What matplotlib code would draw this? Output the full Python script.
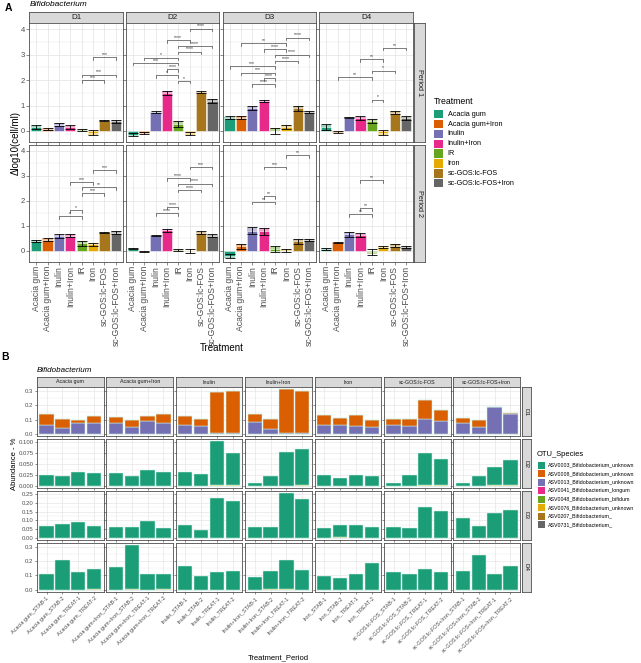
import matplotlib
matplotlib.use('Agg')
import matplotlib.pyplot as plt
from matplotlib.patches import Rectangle
import numpy as np

plt.rcParams['font.family'] = ['Liberation Sans', 'DejaVu Sans']

W, H = 641, 663
fig = plt.figure(figsize=(W / 100, H / 100), dpi=100)


def box(x0, y0, x1, y1):
    return [x0 / W, 1 - y1 / H, (x1 - x0) / W, (y1 - y0) / H]


# ---------------- DATA: panel A ----------------
treatments = ["Acacia gum", "Acacia gum+Iron", "Inulin", "Inulin+Iron", "IR", "Iron",
              "sc-GOS:lc-FOS", "sc-GOS:lc-FOS+Iron"]
treat_colors = ["#1B9E77", "#D95F02", "#7570B3", "#E7298A", "#66A61E", "#E6AB02",
                "#A6761D", "#666666"]
days = ["D1", "D2", "D3", "D4"]
periods = ["Period 1", "Period 2"]

# Period 1 means / errors per day
mean_p1_d1 = [0.15, 0.08, 0.25, 0.15, 0.03, -0.08, 0.40, 0.37]
err_p1_d1 = [0.07, 0.03, 0.07, 0.07, 0.04, 0.10, 0.03, 0.06]
mean_p1_d2 = [-0.15, -0.08, 0.73, 1.50, 0.27, -0.10, 1.52, 1.18]
err_p1_d2 = [0.07, 0.05, 0.04, 0.08, 0.13, 0.07, 0.04, 0.08]
mean_p1_d3 = [0.52, 0.52, 0.90, 1.17, 0.00, 0.15, 0.90, 0.75]
err_p1_d3 = [0.05, 0.07, 0.07, 0.05, 0.12, 0.08, 0.10, 0.05]
mean_p1_d4 = [0.14, -0.05, 0.52, 0.50, 0.40, -0.08, 0.72, 0.50]
err_p1_d4 = [0.12, 0.03, 0.03, 0.07, 0.07, 0.10, 0.07, 0.07]

# Period 2 means / errors per day
mean_p2_d1 = [0.38, 0.44, 0.58, 0.60, 0.30, 0.25, 0.74, 0.72]
err_p2_d1 = [0.05, 0.07, 0.07, 0.06, 0.10, 0.05, 0.02, 0.06]
mean_p2_d2 = [0.08, -0.05, 0.62, 0.82, 0.02, -0.02, 0.72, 0.60]
err_p2_d2 = [0.03, 0.03, 0.02, 0.06, 0.04, 0.07, 0.05, 0.05]
mean_p2_d3 = [-0.22, 0.18, 0.80, 0.77, 0.05, 0.00, 0.38, 0.43]
err_p2_d3 = [0.08, 0.10, 0.15, 0.15, 0.13, 0.07, 0.10, 0.05]
mean_p2_d4 = [0.08, 0.33, 0.65, 0.62, -0.05, 0.15, 0.20, 0.15]
err_p2_d4 = [0.04, 0.02, 0.10, 0.07, 0.12, 0.05, 0.07, 0.05]

# significance brackets: (from index, to index, height, label)
sig_p1_d1 = [(5, 7, 2.90, "***"), (4, 7, 2.22, "***"), (4, 6, 2.00, "***")]
sig_p1_d2 = [(5, 7, 4.03, "****"), (3, 5, 3.57, "****"), (4, 7, 3.35, "****"),
             (4, 6, 3.12, "****"), (1, 4, 2.89, "*"), (0, 4, 2.68, "***"),
             (3, 4, 2.44, "****"), (2, 4, 2.20, "*"), (4, 5, 1.97, "*")]
sig_p1_d3 = [(5, 7, 3.67, "****"), (1, 5, 3.45, "**"), (3, 5, 3.22, "****"),
             (4, 7, 3.00, "****"), (4, 6, 2.76, "****"), (0, 4, 2.54, "***"),
             (1, 4, 2.30, "***"), (3, 4, 2.07, "****"), (2, 4, 1.83, "****")]
sig_p1_d4 = [(5, 7, 3.27, "**"), (3, 5, 2.82, "**"), (4, 6, 2.37, "*"),
             (1, 4, 2.12, "**"), (4, 5, 1.23, "*")]
sig_p2_d1 = [(5, 7, 3.23, "***"), (3, 5, 2.75, "***"), (4, 7, 2.55, "**"),
             (4, 6, 2.30, "***"), (3, 4, 1.62, "*"), (2, 4, 1.38, "*")]
sig_p2_d2 = [(5, 7, 3.36, "***"), (3, 5, 2.90, "****"), (4, 7, 2.69, "****"),
             (4, 6, 2.44, "****"), (3, 4, 1.75, "****"), (2, 4, 1.50, "****")]
sig_p2_d3 = [(5, 7, 3.82, "**"), (3, 5, 3.36, "***"), (3, 4, 2.18, "**"),
             (2, 4, 1.95, "**")]
sig_p2_d4 = [(3, 5, 2.82, "**"), (3, 4, 1.69, "**"), (2, 4, 1.45, "**")]

means = [[mean_p1_d1, mean_p1_d2, mean_p1_d3, mean_p1_d4],
         [mean_p2_d1, mean_p2_d2, mean_p2_d3, mean_p2_d4]]
errs = [[err_p1_d1, err_p1_d2, err_p1_d3, err_p1_d4],
        [err_p2_d1, err_p2_d2, err_p2_d3, err_p2_d4]]
sigs = [[sig_p1_d1, sig_p1_d2, sig_p1_d3, sig_p1_d4],
        [sig_p2_d1, sig_p2_d2, sig_p2_d3, sig_p2_d4]]

# ---------------- DATA: panel B ----------------
b_groups = ["Acacia gum", "Acacia gum+Iron", "Inulin", "Inulin+Iron", "Iron",
            "sc-GOS:lc-FOS", "sc-GOS:lc-FOS+Iron"]
b_periods = ["STAB-1", "STAB-2", "TREAT-1", "TREAT-2"]
otu_species = ["ASV0003_Bifidobacterium_unknown", "ASV0008_Bifidobacterium_unknown",
               "ASV0013_Bifidobacterium_unknown", "ASV0041_Bifidobacterium_longum",
               "ASV0048_Bifidobacterium_bifidum", "ASV0076_Bifidobacterium_unknown",
               "ASV0207_Bifidobacterium_", "ASV0731_Bifidobacterium_"]
otu_colors = ["#1B9E77", "#D95F02", "#7570B3", "#E7298A", "#66A61E", "#E6AB02",
              "#A6761D", "#666666"]

# D1 row: ASV0013 (purple) and ASV0008 (orange)
asv0013_d1 = [0.060, 0.043, 0.079, 0.074, 0.079, 0.048, 0.088, 0.076,
              0.064, 0.055, 0.007, 0.007, 0.086, 0.038, 0.007, 0.010,
              0.060, 0.060, 0.055, 0.052, 0.062, 0.055, 0.102, 0.090,
              0.074, 0.048, 0.190, 0.138]
asv0008_d1 = [0.078, 0.064, 0.021, 0.050, 0.041, 0.052, 0.036, 0.060,
              0.060, 0.052, 0.281, 0.293, 0.050, 0.064, 0.303, 0.288,
              0.070, 0.052, 0.075, 0.043, 0.045, 0.052, 0.131, 0.077,
              0.040, 0.052, 0.000, 0.007]
# D2-D4 rows: ASV0003 (green) and a little ASV0076 (yellow)
asv0003_d2 = [0.0256, 0.0233, 0.0320, 0.0300, 0.0286, 0.0226, 0.0368, 0.0330,
              0.0310, 0.0280, 0.1010, 0.0730, 0.0068, 0.0226, 0.0770, 0.0830,
              0.0240, 0.0180, 0.0256, 0.0233, 0.0060, 0.0240, 0.0745, 0.0587,
              0.0060, 0.0218, 0.0410, 0.0566]
asv0076_d2 = [0, 0, 0, 0, 0, 0, 0, 0,
              0, 0, 0.0015, 0.0015, 0, 0, 0.001, 0.002,
              0, 0, 0, 0, 0, 0, 0.0015, 0.003,
              0, 0, 0.002, 0.002]
asv0003_d3 = [0.068, 0.078, 0.089, 0.068, 0.0625, 0.0625, 0.095, 0.055,
              0.072, 0.045, 0.229, 0.212, 0.0625, 0.058, 0.254, 0.222,
              0.057, 0.073, 0.072, 0.064, 0.0625, 0.057, 0.174, 0.155,
              0.114, 0.068, 0.144, 0.161]
asv0076_d3 = [0, 0, 0, 0, 0, 0, 0, 0,
              0, 0, 0, 0, 0, 0.002, 0.002, 0,
              0, 0.003, 0, 0, 0, 0, 0, 0,
              0, 0, 0, 0]
asv0003_d4 = [0.112, 0.207, 0.121, 0.146, 0.157, 0.312, 0.107, 0.105,
              0.167, 0.093, 0.124, 0.129, 0.088, 0.127, 0.205, 0.138,
              0.095, 0.081, 0.110, 0.186, 0.121, 0.112, 0.148, 0.121,
              0.129, 0.240, 0.107, 0.167]
asv0076_d4 = [0, 0, 0, 0.002, 0, 0.002, 0, 0.002,
              0, 0, 0, 0, 0, 0.002, 0.002, 0,
              0, 0, 0, 0, 0, 0, 0, 0,
              0, 0, 0, 0]

zeros = [0.0] * 28
# stack (bottom -> top) per row, indexed like otu_species
b_rows = {
    "D1": {0: zeros, 1: asv0008_d1, 2: asv0013_d1, 5: zeros},
    "D2": {0: asv0003_d2, 1: zeros, 2: zeros, 5: asv0076_d2},
    "D3": {0: asv0003_d3, 1: zeros, 2: zeros, 5: asv0076_d3},
    "D4": {0: asv0003_d4, 1: zeros, 2: zeros, 5: asv0076_d4},
}
b_ticks = {"D1": ([0.0, 0.1, 0.2, 0.3], "{:.1f}"),
           "D2": ([0.0, 0.025, 0.05, 0.075, 0.1], "{:.3f}"),
           "D3": ([0.0, 0.05, 0.10, 0.15, 0.20, 0.25], "{:.2f}"),
           "D4": ([0.0, 0.1, 0.2, 0.3], "{:.1f}")}

GRID_MAJ = "#E6E6E6"
BORDER = "#4D4D4D"
STRIP = "#D9D9D9"


def style_panel(ax):
    for s in ax.spines.values():
        s.set_edgecolor(BORDER)
        s.set_linewidth(0.6)
    ax.set_axisbelow(True)
    ax.tick_params(length=2, width=0.4, color="#333333", pad=1)


def strip(rect, text, fs, rot=0):
    sa = fig.add_axes(box(*rect))
    sa.set_facecolor(STRIP)
    sa.set_xticks([]); sa.set_yticks([])
    for s in sa.spines.values():
        s.set_edgecolor(BORDER)
        s.set_linewidth(0.6)
    sa.text(0.5, 0.5, text, ha="center", va="center", fontsize=fs, rotation=rot,
            color="#1A1A1A", transform=sa.transAxes)


# ---------------- PANEL A ----------------
a_cols = [(29.3, 122.7), (126.0, 219.3), (222.7, 316.0), (319.3, 413.0)]
a_rows = [(23.3, 142.3), (145.0, 261.7)]
ylimA = (-0.45, 4.24)
x = np.arange(len(treatments))

for ci, (x0, x1) in enumerate(a_cols):
    strip((x0, 11.7, x1, 23.3), days[ci], 5.8)
for ri, (y0, y1) in enumerate(a_rows):
    strip((414.3, y0, 424.7, y1), periods[ri], 5.2, rot=-90)
    for ci, (x0, x1) in enumerate(a_cols):
        ax = fig.add_axes(box(x0, y0, x1, y1))
        style_panel(ax)
        m = np.array(means[ri][ci])
        e = np.array(errs[ri][ci])
        ax.set_xlim(-0.6, 7.6)
        ax.set_ylim(*ylimA)
        ax.set_xticks(x)
        ax.set_yticks([0, 1, 2, 3, 4])
        ax.set_yticks([0.5, 1.5, 2.5, 3.5], minor=True)
        ax.grid(True, which="major", color=GRID_MAJ, lw=0.6)
        ax.grid(True, which="minor", axis="y", color=GRID_MAJ, lw=0.3)
        ax.tick_params(which="minor", length=0)
        light = m + np.sign(m + 1e-9) * e * 0.8
        ax.bar(x, light, width=0.9, color=treat_colors, alpha=0.45, edgecolor="none", zorder=2)
        ax.bar(x, m, width=0.9, color=treat_colors, edgecolor="white", lw=0.4, zorder=3)
        ax.errorbar(x, m, yerr=e, fmt="none", ecolor="black", elinewidth=0.6,
                    capsize=3.6, capthick=0.6, zorder=4)
        for (i, j, h, lab) in sigs[ri][ci]:
            ax.plot([i, i, j, j], [h - 0.1, h, h, h - 0.1], color="#333333", lw=0.45, zorder=5)
            ax.text((i + j) / 2, h + 0.01, lab, ha="center", va="bottom", fontsize=3.6,
                    color="#333333", zorder=5)
        if ri == 1:
            ax.set_xticklabels(treatments, rotation=90, fontsize=6.2, color="#4D4D4D")
        else:
            ax.set_xticklabels([])
        if ci == 0:
            ax.set_yticklabels(["0", "1", "2", "3", "4"], fontsize=5.5, color="#4D4D4D")
        else:
            ax.set_yticklabels([])

fig.text(8 / W, 1 - 8 / H, "A", fontsize=7.5, fontweight="bold", ha="center", va="center")
fig.text(29.3 / W, 1 - 5 / H, "Bifidobacterium", fontsize=6, style="italic", ha="left", va="center")
fig.text(16 / W, 1 - 143 / H, "\u0394log10(cell/ml)", fontsize=7, rotation=90, ha="center", va="center")
fig.text(222 / W, 1 - 348 / H, "Treatment", fontsize=7, ha="center", va="center")

# legend A (manual)
fig.text(434 / W, 1 - 101 / H, "Treatment", fontsize=6.3, ha="left", va="center")
for k, (lab, col) in enumerate(zip(treatments, treat_colors)):
    yk = 110 + k * 9.86
    fig.add_artist(Rectangle((434.3 / W, 1 - (yk + 8.4) / H), 8.4 / W, 8.4 / H,
                             transform=fig.transFigure, facecolor=col, edgecolor="none"))
    fig.text(447.7 / W, 1 - (yk + 4.2) / H, lab, fontsize=5.2, ha="left", va="center")

# ---------------- PANEL B ----------------
n_g = len(b_groups)
bx0, bx1, bgap = 37.0, 520.0, 2.8
bw = (bx1 - bx0 - (n_g - 1) * bgap) / n_g
b_cols = [(bx0 + k * (bw + bgap), bx0 + k * (bw + bgap) + bw) for k in range(n_g)]
by0, by1, bygap = 387.0, 592.0, 2.5
bh = (by1 - by0 - 3 * bygap) / 4
b_rowsy = [(by0 + r * (bh + bygap), by0 + r * (bh + bygap) + bh) for r in range(4)]

for ci, (x0, x1) in enumerate(b_cols):
    strip((x0, 377.0, x1, 387.0), b_groups[ci], 3.8)
for ri, day in enumerate(days):
    y0, y1 = b_rowsy[ri]
    strip((521.5, y0, 530.5, y1), day, 4.5, rot=-90)
    layers = b_rows[day]
    order = [5, 2, 1, 0]  # bottom -> top (ASV0076, ASV0013, ASV0008, ASV0003)
    totals = np.zeros(28)
    for k in order:
        totals += np.array(layers[k])
    ymax = totals.max()
    ticks, fmt = b_ticks[day]
    for ci, (x0, x1) in enumerate(b_cols):
        ax = fig.add_axes(box(x0, y0, x1, y1))
        style_panel(ax)
        xb = np.arange(4)
        bottom = np.zeros(4)
        for k in order:
            vals = np.array(layers[k][ci * 4:(ci + 1) * 4])
            ax.bar(xb, vals, bottom=bottom, width=0.9, color=otu_colors[k],
                   edgecolor="#CFF3E6", lw=0.35, zorder=3)
            bottom += vals
        ax.set_xlim(-0.6, 3.6)
        ax.set_ylim(-0.05 * ymax, 1.05 * ymax)
        ax.set_xticks(xb)
        ax.set_yticks(ticks)
        mids = [(a + b) / 2 for a, b in zip(ticks[:-1], ticks[1:])]
        ax.set_yticks(mids, minor=True)
        ax.grid(True, which="major", color=GRID_MAJ, lw=0.5)
        ax.grid(True, which="minor", axis="y", color=GRID_MAJ, lw=0.25)
        ax.tick_params(which="minor", length=0)
        ax.tick_params(length=1.5)
        if ci == 0:
            ax.set_yticklabels([fmt.format(t) for t in ticks], fontsize=4.3, color="#4D4D4D")
        else:
            ax.set_yticklabels([])
        if ri == 3:
            ax.set_xticklabels([f"{b_groups[ci]}_{p}" for p in b_periods], rotation=45,
                               ha="right", va="top", rotation_mode="anchor",
                               fontsize=4.0, color="#4D4D4D")
        else:
            ax.set_xticklabels([])

fig.text(5 / W, 1 - 357 / H, "B", fontsize=7.5, fontweight="bold", ha="center", va="center")
fig.text(37 / W, 1 - 370 / H, "Bifidobacterium", fontsize=5.8, style="italic", ha="left", va="center")
fig.text(15 / W, 1 - 464 / H, "Abundance - %", fontsize=5.5, rotation=90, ha="center", va="center")
fig.text(278 / W, 1 - 658 / H, "Treatment_Period", fontsize=5.5, ha="center", va="center")

# legend B (manual)
fig.text(537 / W, 1 - 455 / H, "OTU_Species", fontsize=5.4, ha="left", va="center")
for k, (lab, col) in enumerate(zip(otu_species, otu_colors)):
    yk = 461.5 + k * 8.5
    fig.add_artist(Rectangle((537.5 / W, 1 - (yk + 7.0) / H), 7.0 / W, 7.0 / H,
                             transform=fig.transFigure, facecolor=col, edgecolor="none"))
    fig.text(547.5 / W, 1 - (yk + 3.5) / H, lab, fontsize=3.8, ha="left", va="center")

fig.savefig("out.png", dpi=100)
